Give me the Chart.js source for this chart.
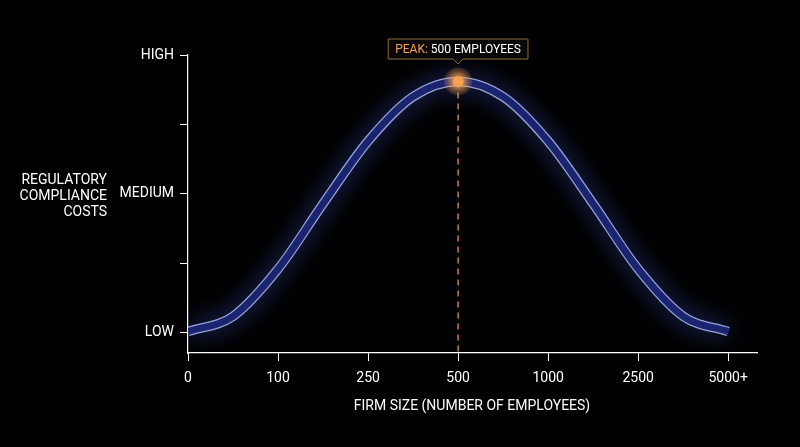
<!DOCTYPE html>
<html><head><meta charset="utf-8">
<script src="https://cdn.jsdelivr.net/npm/chart.js@4/dist/chart.umd.min.js"></script>
<style>html,body{margin:0;background:#000;}#w{width:800px;height:447px;}</style>
</head><body><div id="w"><canvas id="c"></canvas></div>
<script>
const xTickLabels = ['0','100','250','500','1000','2500','5000+'];
const xPositions = [0,0.5,1,1.5,2,2.5,3,3.5,4,4.5,5,5.5,6];
const costValues = [0.01,0.12,0.46,0.93,1.38,1.7,1.81,1.7,1.38,0.93,0.46,0.12,0.01];
const yTickLabels = {0:'LOW',1:'MEDIUM',2:'HIGH'};
const peakIndex = 6;
const peakLabel = ['PEAK:',' 500 EMPLOYEES'];
const FONT = 'Roboto, "Liberation Sans", sans-serif';

const pts = xPositions.map((x,i)=>({x, y: costValues[i]}));

const deco = {
  id:'deco',
  beforeDatasetsDraw(chart){
    const ctx = chart.ctx, xs = chart.scales.x, ys = chart.scales.y;
    const px = xs.getPixelForValue(xPositions[peakIndex]), py = ys.getPixelForValue(costValues[peakIndex]);
    ctx.save();
    ctx.strokeStyle = '#e0905a'; ctx.lineWidth = 1.3; ctx.setLineDash([6,5]);
    ctx.beginPath(); ctx.moveTo(px, py); ctx.lineTo(px, ys.bottom); ctx.stroke();
    ctx.restore();
  },
  afterDatasetsDraw(chart){
    const ctx = chart.ctx, xs = chart.scales.x, ys = chart.scales.y;
    const px = xs.getPixelForValue(xPositions[peakIndex]), py = ys.getPixelForValue(costValues[peakIndex]);
    ctx.save();
    let g = ctx.createRadialGradient(px,py,2,px,py,14);
    g.addColorStop(0,'rgba(255,170,80,0.7)'); g.addColorStop(1,'rgba(255,150,60,0.12)');
    ctx.fillStyle = g; ctx.beginPath(); ctx.arc(px,py,14,0,Math.PI*2); ctx.fill();
    ctx.fillStyle = '#f5a24c'; ctx.shadowColor='#ffb060'; ctx.shadowBlur=8;
    ctx.beginPath(); ctx.arc(px,py,5.5,0,Math.PI*2); ctx.fill();
    ctx.shadowBlur = 0;
    ctx.font = '12px ' + FONT;
    const w1 = ctx.measureText(peakLabel[0]).width, w2 = ctx.measureText(peakLabel[1]).width;
    const bw = w1 + w2 + 14, bh = 20, bx = px - bw/2, by = 39;
    ctx.fillStyle = '#0a0806'; ctx.strokeStyle = '#8a6a40'; ctx.lineWidth = 1;
    ctx.beginPath();
    ctx.moveTo(bx,by); ctx.lineTo(bx+bw,by); ctx.lineTo(bx+bw,by+bh);
    ctx.lineTo(px+5,by+bh); ctx.lineTo(px,by+bh+5); ctx.lineTo(px-5,by+bh); ctx.lineTo(bx,by+bh); ctx.closePath();
    ctx.fill(); ctx.stroke();
    ctx.textBaseline = 'middle'; ctx.textAlign = 'left';
    ctx.fillStyle = '#f0a050'; ctx.fillText(peakLabel[0], bx+7, by+bh/2+0.5);
    ctx.fillStyle = '#ffffff'; ctx.fillText(peakLabel[1], bx+7+w1, by+bh/2+0.5);
    ctx.font = '14px ' + FONT; ctx.fillStyle = '#fff'; ctx.textAlign = 'right';
    ['REGULATORY','COMPLIANCE','COSTS'].forEach((t,i)=>ctx.fillText(t, 107, 180 + i*16));
    ctx.textAlign = 'center';
    ctx.fillText('FIRM SIZE (NUMBER OF EMPLOYEES)', 472, 406);
    ctx.restore();
  }
};

new Chart(document.getElementById('c'), {
  type:'line',
  data:{datasets:[
    {data:pts, borderColor:'#1b246e', borderWidth:7, cubicInterpolationMode:'monotone', pointRadius:0, fill:false},
    {data:pts, borderColor:'#9aa3d8', borderWidth:9.5, cubicInterpolationMode:'monotone', pointRadius:0, fill:false}
  ]},
  options:{
    responsive:true, maintainAspectRatio:false, animation:false,
    layout:{padding:{top:55, right:43, left:0, bottom:0}},
    plugins:{legend:{display:false}, tooltip:{enabled:false}},
    scales:{
      x:{type:'linear', min:0, max:6.32,
        afterBuildTicks(s){ s.ticks = xTickLabels.map((_,i)=>({value:i})); },
        afterFit(s){ s.height = 94; },
        ticks:{color:'#fff', font:{family:FONT,size:14}, padding:9, maxRotation:0, autoSkip:false,
          callback:(v)=>xTickLabels[v] ?? ''},
        grid:{drawOnChartArea:false, color:'#fff', tickLength:8},
        border:{color:'#fff', width:1.2}},
      y:{min:-0.144, max:2,
        afterBuildTicks(s){ s.ticks = [0,0.5,1,1.5,2].map(v=>({value:v})); },
        afterFit(s){ s.width = 188; },
        ticks:{color:'#fff', font:{family:FONT,size:14}, padding:6, autoSkip:false,
          callback:(v)=>yTickLabels[v] ?? ''},
        grid:{drawOnChartArea:false, color:'#fff', tickLength:8},
        border:{color:'#fff', width:1.2}}
    }
  },
  plugins:[deco, {
    id:'glow',
    beforeDatasetDraw(chart,args){ const c=chart.ctx; c.save(); if(args.index===1){c.shadowColor='rgba(80,110,255,0.55)'; c.shadowBlur=24;} },
    afterDatasetDraw(chart){ chart.ctx.restore(); }
  }]
});
</script></body></html>
